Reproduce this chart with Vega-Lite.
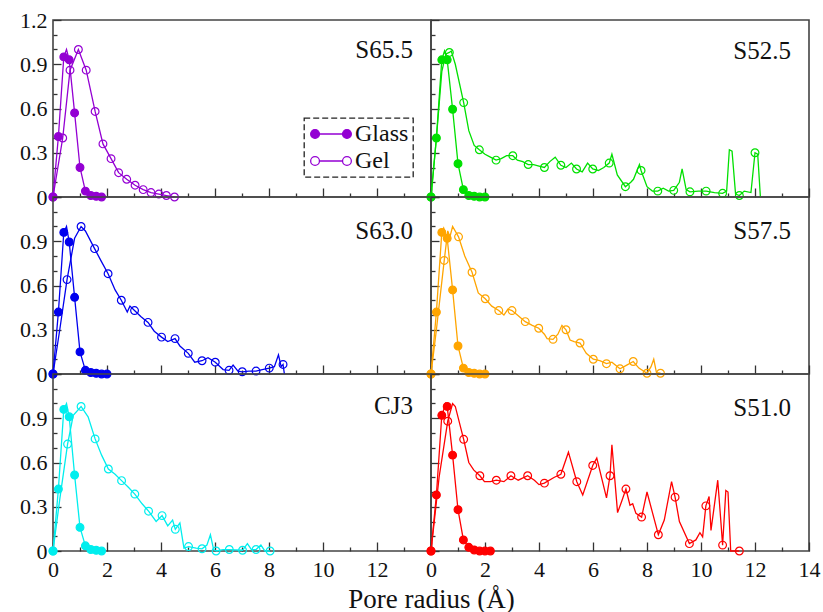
{
"$schema":"https://vega.github.io/schema/vega-lite/v6.json",
"padding":{"left":18,"top":8,"right":3,"bottom":3},
"config":{"font":"Liberation Serif","view":{"stroke":"#444","strokeWidth":1.6},"axis":{"domain":false,"grid":false,"labelFont":"Liberation Serif","labelFontSize":22,"labelColor":"#111","tickColor":"#333","tickWidth":1.3,"labelFlush":false,"labelOverlap":false},"legend":{"strokeDash":[6,3],"strokeWidth":1.3},"concat":{"spacing":0}},
"datasets":{"pore":[
{"sample":"S65.5","phase":"Glass","r":0,"g":0,"sym":1},{"sample":"S65.5","phase":"Glass","r":0.2,"g":0.41,"sym":1},{"sample":"S65.5","phase":"Glass","r":0.4,"g":0.95,"sym":1},{"sample":"S65.5","phase":"Glass","r":0.5,"g":1.0,"sym":0},{"sample":"S65.5","phase":"Glass","r":0.6,"g":0.93,"sym":1},{"sample":"S65.5","phase":"Glass","r":0.8,"g":0.57,"sym":1},{"sample":"S65.5","phase":"Glass","r":1.0,"g":0.2,"sym":1},{"sample":"S65.5","phase":"Glass","r":1.2,"g":0.04,"sym":1},{"sample":"S65.5","phase":"Glass","r":1.4,"g":0.01,"sym":1},{"sample":"S65.5","phase":"Glass","r":1.6,"g":0.005,"sym":1},{"sample":"S65.5","phase":"Glass","r":1.8,"g":0,"sym":1},
{"sample":"S65.5","phase":"Gel","r":0,"g":0,"sym":1},{"sample":"S65.5","phase":"Gel","r":0.36,"g":0.4,"sym":1},{"sample":"S65.5","phase":"Gel","r":0.63,"g":0.86,"sym":1},{"sample":"S65.5","phase":"Gel","r":0.94,"g":1.0,"sym":1},{"sample":"S65.5","phase":"Gel","r":1.23,"g":0.86,"sym":1},{"sample":"S65.5","phase":"Gel","r":1.56,"g":0.58,"sym":1},{"sample":"S65.5","phase":"Gel","r":1.85,"g":0.36,"sym":1},{"sample":"S65.5","phase":"Gel","r":2.15,"g":0.26,"sym":1},{"sample":"S65.5","phase":"Gel","r":2.43,"g":0.165,"sym":1},{"sample":"S65.5","phase":"Gel","r":2.73,"g":0.12,"sym":1},{"sample":"S65.5","phase":"Gel","r":3.04,"g":0.08,"sym":1},{"sample":"S65.5","phase":"Gel","r":3.34,"g":0.05,"sym":1},{"sample":"S65.5","phase":"Gel","r":3.63,"g":0.03,"sym":1},{"sample":"S65.5","phase":"Gel","r":3.92,"g":0.02,"sym":1},{"sample":"S65.5","phase":"Gel","r":4.2,"g":0.01,"sym":1},{"sample":"S65.5","phase":"Gel","r":4.5,"g":0,"sym":1},
{"sample":"S52.5","phase":"Glass","r":0,"g":0,"sym":1},{"sample":"S52.5","phase":"Glass","r":0.2,"g":0.4,"sym":1},{"sample":"S52.5","phase":"Glass","r":0.4,"g":0.93,"sym":1},{"sample":"S52.5","phase":"Glass","r":0.5,"g":0.99,"sym":0},{"sample":"S52.5","phase":"Glass","r":0.6,"g":0.93,"sym":1},{"sample":"S52.5","phase":"Glass","r":0.8,"g":0.595,"sym":1},{"sample":"S52.5","phase":"Glass","r":1.0,"g":0.226,"sym":1},{"sample":"S52.5","phase":"Glass","r":1.2,"g":0.05,"sym":1},{"sample":"S52.5","phase":"Glass","r":1.4,"g":0.01,"sym":1},{"sample":"S52.5","phase":"Glass","r":1.6,"g":0.005,"sym":1},{"sample":"S52.5","phase":"Glass","r":1.8,"g":0,"sym":1},{"sample":"S52.5","phase":"Glass","r":2.0,"g":0,"sym":1},
{"sample":"S52.5","phase":"Gel","r":0,"g":0,"sym":1},{"sample":"S52.5","phase":"Gel","r":0.2,"g":0.4,"sym":0},{"sample":"S52.5","phase":"Gel","r":0.4,"g":0.85,"sym":0},{"sample":"S52.5","phase":"Gel","r":0.55,"g":0.97,"sym":0},{"sample":"S52.5","phase":"Gel","r":0.68,"g":0.98,"sym":1},{"sample":"S52.5","phase":"Gel","r":0.75,"g":0.99,"sym":0},{"sample":"S52.5","phase":"Gel","r":0.9,"g":0.9,"sym":0},{"sample":"S52.5","phase":"Gel","r":1.21,"g":0.64,"sym":1},{"sample":"S52.5","phase":"Gel","r":1.4,"g":0.45,"sym":0},{"sample":"S52.5","phase":"Gel","r":1.6,"g":0.35,"sym":0},{"sample":"S52.5","phase":"Gel","r":1.79,"g":0.32,"sym":1},{"sample":"S52.5","phase":"Gel","r":2.0,"g":0.29,"sym":0},{"sample":"S52.5","phase":"Gel","r":2.2,"g":0.27,"sym":0},{"sample":"S52.5","phase":"Gel","r":2.41,"g":0.25,"sym":1},{"sample":"S52.5","phase":"Gel","r":2.6,"g":0.26,"sym":0},{"sample":"S52.5","phase":"Gel","r":2.8,"g":0.28,"sym":0},{"sample":"S52.5","phase":"Gel","r":3.03,"g":0.28,"sym":1},{"sample":"S52.5","phase":"Gel","r":3.2,"g":0.25,"sym":0},{"sample":"S52.5","phase":"Gel","r":3.4,"g":0.24,"sym":0},{"sample":"S52.5","phase":"Gel","r":3.6,"g":0.22,"sym":1},{"sample":"S52.5","phase":"Gel","r":3.8,"g":0.22,"sym":0},{"sample":"S52.5","phase":"Gel","r":4.0,"g":0.21,"sym":0},{"sample":"S52.5","phase":"Gel","r":4.2,"g":0.2,"sym":1},{"sample":"S52.5","phase":"Gel","r":4.4,"g":0.24,"sym":0},{"sample":"S52.5","phase":"Gel","r":4.6,"g":0.27,"sym":0},{"sample":"S52.5","phase":"Gel","r":4.81,"g":0.215,"sym":1},{"sample":"S52.5","phase":"Gel","r":5.0,"g":0.2,"sym":0},{"sample":"S52.5","phase":"Gel","r":5.2,"g":0.23,"sym":0},{"sample":"S52.5","phase":"Gel","r":5.39,"g":0.19,"sym":1},{"sample":"S52.5","phase":"Gel","r":5.6,"g":0.17,"sym":0},{"sample":"S52.5","phase":"Gel","r":5.8,"g":0.23,"sym":0},{"sample":"S52.5","phase":"Gel","r":5.99,"g":0.19,"sym":1},{"sample":"S52.5","phase":"Gel","r":6.2,"g":0.18,"sym":0},{"sample":"S52.5","phase":"Gel","r":6.4,"g":0.2,"sym":0},{"sample":"S52.5","phase":"Gel","r":6.6,"g":0.23,"sym":1},{"sample":"S52.5","phase":"Gel","r":6.7,"g":0.29,"sym":0},{"sample":"S52.5","phase":"Gel","r":6.9,"g":0.15,"sym":0},{"sample":"S52.5","phase":"Gel","r":7.2,"g":0.07,"sym":1},{"sample":"S52.5","phase":"Gel","r":7.4,"g":0.1,"sym":0},{"sample":"S52.5","phase":"Gel","r":7.5,"g":0.12,"sym":0},{"sample":"S52.5","phase":"Gel","r":7.72,"g":0.22,"sym":0},{"sample":"S52.5","phase":"Gel","r":7.78,"g":0.18,"sym":1},{"sample":"S52.5","phase":"Gel","r":8.0,"g":0.07,"sym":0},{"sample":"S52.5","phase":"Gel","r":8.2,"g":0.04,"sym":0},{"sample":"S52.5","phase":"Gel","r":8.4,"g":0.04,"sym":1},{"sample":"S52.5","phase":"Gel","r":8.6,"g":0.06,"sym":0},{"sample":"S52.5","phase":"Gel","r":8.8,"g":0.04,"sym":0},{"sample":"S52.5","phase":"Gel","r":8.99,"g":0.045,"sym":1},{"sample":"S52.5","phase":"Gel","r":9.2,"g":0.1,"sym":0},{"sample":"S52.5","phase":"Gel","r":9.3,"g":0.19,"sym":0},{"sample":"S52.5","phase":"Gel","r":9.45,"g":0.05,"sym":0},{"sample":"S52.5","phase":"Gel","r":9.59,"g":0.035,"sym":1},{"sample":"S52.5","phase":"Gel","r":9.9,"g":0.04,"sym":0},{"sample":"S52.5","phase":"Gel","r":10.19,"g":0.04,"sym":1},{"sample":"S52.5","phase":"Gel","r":10.5,"g":0.03,"sym":0},{"sample":"S52.5","phase":"Gel","r":10.8,"g":0.025,"sym":1},{"sample":"S52.5","phase":"Gel","r":10.95,"g":0.04,"sym":0},{"sample":"S52.5","phase":"Gel","r":11.05,"g":0.32,"sym":0},{"sample":"S52.5","phase":"Gel","r":11.15,"g":0.31,"sym":0},{"sample":"S52.5","phase":"Gel","r":11.28,"g":0.02,"sym":0},{"sample":"S52.5","phase":"Gel","r":11.42,"g":0.01,"sym":1},{"sample":"S52.5","phase":"Gel","r":11.6,"g":0.04,"sym":0},{"sample":"S52.5","phase":"Gel","r":11.85,"g":0.03,"sym":0},{"sample":"S52.5","phase":"Gel","r":12.0,"g":0.3,"sym":1},{"sample":"S52.5","phase":"Gel","r":12.1,"g":0.29,"sym":0},{"sample":"S52.5","phase":"Gel","r":12.2,"g":0,"sym":0},
{"sample":"S63.0","phase":"Glass","r":0,"g":0,"sym":1},{"sample":"S63.0","phase":"Glass","r":0.2,"g":0.42,"sym":1},{"sample":"S63.0","phase":"Glass","r":0.4,"g":0.96,"sym":1},{"sample":"S63.0","phase":"Glass","r":0.5,"g":1.0,"sym":0},{"sample":"S63.0","phase":"Glass","r":0.6,"g":0.895,"sym":1},{"sample":"S63.0","phase":"Glass","r":0.8,"g":0.52,"sym":1},{"sample":"S63.0","phase":"Glass","r":1.0,"g":0.15,"sym":1},{"sample":"S63.0","phase":"Glass","r":1.2,"g":0.025,"sym":1},{"sample":"S63.0","phase":"Glass","r":1.4,"g":0.01,"sym":1},{"sample":"S63.0","phase":"Glass","r":1.6,"g":0.005,"sym":1},{"sample":"S63.0","phase":"Glass","r":1.8,"g":0,"sym":1},{"sample":"S63.0","phase":"Glass","r":2.0,"g":0,"sym":1},
{"sample":"S63.0","phase":"Gel","r":0,"g":0,"sym":1},{"sample":"S63.0","phase":"Gel","r":0.25,"g":0.3,"sym":0},{"sample":"S63.0","phase":"Gel","r":0.52,"g":0.64,"sym":1},{"sample":"S63.0","phase":"Gel","r":0.8,"g":0.92,"sym":0},{"sample":"S63.0","phase":"Gel","r":1.04,"g":1.0,"sym":1},{"sample":"S63.0","phase":"Gel","r":1.2,"g":0.97,"sym":0},{"sample":"S63.0","phase":"Gel","r":1.54,"g":0.85,"sym":1},{"sample":"S63.0","phase":"Gel","r":1.8,"g":0.76,"sym":0},{"sample":"S63.0","phase":"Gel","r":2.04,"g":0.68,"sym":1},{"sample":"S63.0","phase":"Gel","r":2.3,"g":0.57,"sym":0},{"sample":"S63.0","phase":"Gel","r":2.53,"g":0.5,"sym":1},{"sample":"S63.0","phase":"Gel","r":2.75,"g":0.42,"sym":0},{"sample":"S63.0","phase":"Gel","r":2.85,"g":0.46,"sym":0},{"sample":"S63.0","phase":"Gel","r":3.02,"g":0.43,"sym":1},{"sample":"S63.0","phase":"Gel","r":3.25,"g":0.39,"sym":0},{"sample":"S63.0","phase":"Gel","r":3.52,"g":0.35,"sym":1},{"sample":"S63.0","phase":"Gel","r":3.75,"g":0.29,"sym":0},{"sample":"S63.0","phase":"Gel","r":4.02,"g":0.25,"sym":1},{"sample":"S63.0","phase":"Gel","r":4.25,"g":0.22,"sym":0},{"sample":"S63.0","phase":"Gel","r":4.52,"g":0.24,"sym":1},{"sample":"S63.0","phase":"Gel","r":4.7,"g":0.19,"sym":0},{"sample":"S63.0","phase":"Gel","r":5.01,"g":0.14,"sym":1},{"sample":"S63.0","phase":"Gel","r":5.25,"g":0.08,"sym":0},{"sample":"S63.0","phase":"Gel","r":5.52,"g":0.09,"sym":1},{"sample":"S63.0","phase":"Gel","r":5.74,"g":0.11,"sym":0},{"sample":"S63.0","phase":"Gel","r":6.01,"g":0.08,"sym":1},{"sample":"S63.0","phase":"Gel","r":6.3,"g":0.03,"sym":0},{"sample":"S63.0","phase":"Gel","r":6.52,"g":0.025,"sym":1},{"sample":"S63.0","phase":"Gel","r":6.67,"g":0.06,"sym":0},{"sample":"S63.0","phase":"Gel","r":6.85,"g":0.02,"sym":0},{"sample":"S63.0","phase":"Gel","r":7.01,"g":0.015,"sym":1},{"sample":"S63.0","phase":"Gel","r":7.25,"g":0.02,"sym":0},{"sample":"S63.0","phase":"Gel","r":7.52,"g":0.02,"sym":1},{"sample":"S63.0","phase":"Gel","r":7.75,"g":0.03,"sym":0},{"sample":"S63.0","phase":"Gel","r":8.01,"g":0.04,"sym":1},{"sample":"S63.0","phase":"Gel","r":8.2,"g":0.05,"sym":0},{"sample":"S63.0","phase":"Gel","r":8.35,"g":0.13,"sym":0},{"sample":"S63.0","phase":"Gel","r":8.45,"g":0.05,"sym":0},{"sample":"S63.0","phase":"Gel","r":8.52,"g":0.065,"sym":1},{"sample":"S63.0","phase":"Gel","r":8.57,"g":0,"sym":0},
{"sample":"S57.5","phase":"Glass","r":0,"g":0,"sym":1},{"sample":"S57.5","phase":"Glass","r":0.2,"g":0.42,"sym":1},{"sample":"S57.5","phase":"Glass","r":0.4,"g":0.96,"sym":1},{"sample":"S57.5","phase":"Glass","r":0.47,"g":0.99,"sym":0},{"sample":"S57.5","phase":"Glass","r":0.6,"g":0.92,"sym":1},{"sample":"S57.5","phase":"Glass","r":0.8,"g":0.57,"sym":1},{"sample":"S57.5","phase":"Glass","r":1.0,"g":0.19,"sym":1},{"sample":"S57.5","phase":"Glass","r":1.2,"g":0.04,"sym":1},{"sample":"S57.5","phase":"Glass","r":1.4,"g":0.01,"sym":1},{"sample":"S57.5","phase":"Glass","r":1.6,"g":0.005,"sym":1},{"sample":"S57.5","phase":"Glass","r":1.8,"g":0,"sym":1},{"sample":"S57.5","phase":"Glass","r":2.0,"g":0,"sym":1},
{"sample":"S57.5","phase":"Gel","r":0,"g":0,"sym":1},{"sample":"S57.5","phase":"Gel","r":0.2,"g":0.3,"sym":0},{"sample":"S57.5","phase":"Gel","r":0.49,"g":0.77,"sym":1},{"sample":"S57.5","phase":"Gel","r":0.62,"g":0.97,"sym":0},{"sample":"S57.5","phase":"Gel","r":0.7,"g":0.93,"sym":0},{"sample":"S57.5","phase":"Gel","r":0.8,"g":1.0,"sym":0},{"sample":"S57.5","phase":"Gel","r":1.02,"g":0.93,"sym":1},{"sample":"S57.5","phase":"Gel","r":1.25,"g":0.8,"sym":0},{"sample":"S57.5","phase":"Gel","r":1.52,"g":0.69,"sym":1},{"sample":"S57.5","phase":"Gel","r":1.75,"g":0.55,"sym":0},{"sample":"S57.5","phase":"Gel","r":2.01,"g":0.51,"sym":1},{"sample":"S57.5","phase":"Gel","r":2.25,"g":0.46,"sym":0},{"sample":"S57.5","phase":"Gel","r":2.51,"g":0.43,"sym":1},{"sample":"S57.5","phase":"Gel","r":2.7,"g":0.4,"sym":0},{"sample":"S57.5","phase":"Gel","r":2.85,"g":0.44,"sym":0},{"sample":"S57.5","phase":"Gel","r":3.0,"g":0.43,"sym":1},{"sample":"S57.5","phase":"Gel","r":3.2,"g":0.4,"sym":0},{"sample":"S57.5","phase":"Gel","r":3.49,"g":0.355,"sym":1},{"sample":"S57.5","phase":"Gel","r":3.75,"g":0.33,"sym":0},{"sample":"S57.5","phase":"Gel","r":3.99,"g":0.31,"sym":1},{"sample":"S57.5","phase":"Gel","r":4.2,"g":0.27,"sym":0},{"sample":"S57.5","phase":"Gel","r":4.3,"g":0.24,"sym":0},{"sample":"S57.5","phase":"Gel","r":4.52,"g":0.235,"sym":1},{"sample":"S57.5","phase":"Gel","r":4.7,"g":0.27,"sym":0},{"sample":"S57.5","phase":"Gel","r":4.85,"g":0.33,"sym":0},{"sample":"S57.5","phase":"Gel","r":5.0,"g":0.3,"sym":1},{"sample":"S57.5","phase":"Gel","r":5.15,"g":0.23,"sym":0},{"sample":"S57.5","phase":"Gel","r":5.3,"g":0.22,"sym":0},{"sample":"S57.5","phase":"Gel","r":5.52,"g":0.21,"sym":1},{"sample":"S57.5","phase":"Gel","r":5.75,"g":0.14,"sym":0},{"sample":"S57.5","phase":"Gel","r":6.01,"g":0.1,"sym":1},{"sample":"S57.5","phase":"Gel","r":6.25,"g":0.09,"sym":0},{"sample":"S57.5","phase":"Gel","r":6.5,"g":0.07,"sym":1},{"sample":"S57.5","phase":"Gel","r":6.7,"g":0.08,"sym":0},{"sample":"S57.5","phase":"Gel","r":7.0,"g":0.035,"sym":1},{"sample":"S57.5","phase":"Gel","r":7.25,"g":0.06,"sym":0},{"sample":"S57.5","phase":"Gel","r":7.49,"g":0.085,"sym":1},{"sample":"S57.5","phase":"Gel","r":7.7,"g":0.04,"sym":0},{"sample":"S57.5","phase":"Gel","r":8.0,"g":0.005,"sym":1},{"sample":"S57.5","phase":"Gel","r":8.15,"g":0.05,"sym":0},{"sample":"S57.5","phase":"Gel","r":8.25,"g":0.1,"sym":0},{"sample":"S57.5","phase":"Gel","r":8.35,"g":0.01,"sym":0},{"sample":"S57.5","phase":"Gel","r":8.5,"g":0.005,"sym":1},
{"sample":"CJ3","phase":"Glass","r":0,"g":0,"sym":1},{"sample":"CJ3","phase":"Glass","r":0.2,"g":0.42,"sym":1},{"sample":"CJ3","phase":"Glass","r":0.4,"g":0.96,"sym":1},{"sample":"CJ3","phase":"Glass","r":0.5,"g":1.0,"sym":0},{"sample":"CJ3","phase":"Glass","r":0.6,"g":0.91,"sym":1},{"sample":"CJ3","phase":"Glass","r":0.8,"g":0.515,"sym":1},{"sample":"CJ3","phase":"Glass","r":1.0,"g":0.16,"sym":1},{"sample":"CJ3","phase":"Glass","r":1.2,"g":0.035,"sym":1},{"sample":"CJ3","phase":"Glass","r":1.4,"g":0.01,"sym":1},{"sample":"CJ3","phase":"Glass","r":1.6,"g":0.005,"sym":1},{"sample":"CJ3","phase":"Glass","r":1.8,"g":0,"sym":1},
{"sample":"CJ3","phase":"Gel","r":0,"g":0,"sym":1},{"sample":"CJ3","phase":"Gel","r":0.25,"g":0.35,"sym":0},{"sample":"CJ3","phase":"Gel","r":0.54,"g":0.725,"sym":1},{"sample":"CJ3","phase":"Gel","r":0.75,"g":0.92,"sym":0},{"sample":"CJ3","phase":"Gel","r":1.04,"g":0.98,"sym":1},{"sample":"CJ3","phase":"Gel","r":1.3,"g":0.91,"sym":0},{"sample":"CJ3","phase":"Gel","r":1.56,"g":0.76,"sym":1},{"sample":"CJ3","phase":"Gel","r":1.8,"g":0.65,"sym":0},{"sample":"CJ3","phase":"Gel","r":2.05,"g":0.556,"sym":1},{"sample":"CJ3","phase":"Gel","r":2.3,"g":0.52,"sym":0},{"sample":"CJ3","phase":"Gel","r":2.54,"g":0.477,"sym":1},{"sample":"CJ3","phase":"Gel","r":2.8,"g":0.43,"sym":0},{"sample":"CJ3","phase":"Gel","r":3.03,"g":0.386,"sym":1},{"sample":"CJ3","phase":"Gel","r":3.3,"g":0.32,"sym":0},{"sample":"CJ3","phase":"Gel","r":3.54,"g":0.27,"sym":1},{"sample":"CJ3","phase":"Gel","r":3.82,"g":0.2,"sym":0},{"sample":"CJ3","phase":"Gel","r":4.04,"g":0.24,"sym":1},{"sample":"CJ3","phase":"Gel","r":4.25,"g":0.17,"sym":0},{"sample":"CJ3","phase":"Gel","r":4.43,"g":0.21,"sym":0},{"sample":"CJ3","phase":"Gel","r":4.53,"g":0.147,"sym":1},{"sample":"CJ3","phase":"Gel","r":4.7,"g":0.19,"sym":0},{"sample":"CJ3","phase":"Gel","r":4.85,"g":0.02,"sym":0},{"sample":"CJ3","phase":"Gel","r":5.02,"g":0.03,"sym":1},{"sample":"CJ3","phase":"Gel","r":5.3,"g":0.02,"sym":0},{"sample":"CJ3","phase":"Gel","r":5.52,"g":0.015,"sym":1},{"sample":"CJ3","phase":"Gel","r":5.7,"g":0.04,"sym":0},{"sample":"CJ3","phase":"Gel","r":5.83,"g":0.11,"sym":0},{"sample":"CJ3","phase":"Gel","r":5.95,"g":0.01,"sym":0},{"sample":"CJ3","phase":"Gel","r":6.04,"g":0,"sym":1},{"sample":"CJ3","phase":"Gel","r":6.3,"g":0.01,"sym":0},{"sample":"CJ3","phase":"Gel","r":6.53,"g":0.01,"sym":1},{"sample":"CJ3","phase":"Gel","r":7.02,"g":0.005,"sym":1},{"sample":"CJ3","phase":"Gel","r":7.2,"g":0.05,"sym":0},{"sample":"CJ3","phase":"Gel","r":7.35,"g":0.01,"sym":0},{"sample":"CJ3","phase":"Gel","r":7.52,"g":0.01,"sym":1},{"sample":"CJ3","phase":"Gel","r":7.7,"g":0.04,"sym":0},{"sample":"CJ3","phase":"Gel","r":7.85,"g":0,"sym":0},{"sample":"CJ3","phase":"Gel","r":8.04,"g":0,"sym":1},
{"sample":"S51.0","phase":"Glass","r":0,"g":0,"sym":1},{"sample":"S51.0","phase":"Glass","r":0.2,"g":0.38,"sym":1},{"sample":"S51.0","phase":"Glass","r":0.4,"g":0.92,"sym":1},{"sample":"S51.0","phase":"Glass","r":0.55,"g":1.0,"sym":0},{"sample":"S51.0","phase":"Glass","r":0.6,"g":0.98,"sym":1},{"sample":"S51.0","phase":"Glass","r":0.8,"g":0.65,"sym":1},{"sample":"S51.0","phase":"Glass","r":1.0,"g":0.28,"sym":1},{"sample":"S51.0","phase":"Glass","r":1.2,"g":0.075,"sym":1},{"sample":"S51.0","phase":"Glass","r":1.4,"g":0.025,"sym":1},{"sample":"S51.0","phase":"Glass","r":1.6,"g":0.007,"sym":1},{"sample":"S51.0","phase":"Glass","r":1.8,"g":0,"sym":1},{"sample":"S51.0","phase":"Glass","r":2.0,"g":0,"sym":1},{"sample":"S51.0","phase":"Glass","r":2.2,"g":0,"sym":1},
{"sample":"S51.0","phase":"Gel","r":0,"g":0,"sym":1},{"sample":"S51.0","phase":"Gel","r":0.3,"g":0.5,"sym":0},{"sample":"S51.0","phase":"Gel","r":0.62,"g":0.88,"sym":1},{"sample":"S51.0","phase":"Gel","r":0.8,"g":1.0,"sym":0},{"sample":"S51.0","phase":"Gel","r":0.9,"g":0.98,"sym":0},{"sample":"S51.0","phase":"Gel","r":1.21,"g":0.757,"sym":1},{"sample":"S51.0","phase":"Gel","r":1.4,"g":0.6,"sym":0},{"sample":"S51.0","phase":"Gel","r":1.58,"g":0.55,"sym":0},{"sample":"S51.0","phase":"Gel","r":1.81,"g":0.51,"sym":1},{"sample":"S51.0","phase":"Gel","r":1.98,"g":0.47,"sym":0},{"sample":"S51.0","phase":"Gel","r":2.2,"g":0.47,"sym":0},{"sample":"S51.0","phase":"Gel","r":2.42,"g":0.48,"sym":1},{"sample":"S51.0","phase":"Gel","r":2.7,"g":0.47,"sym":0},{"sample":"S51.0","phase":"Gel","r":2.96,"g":0.51,"sym":1},{"sample":"S51.0","phase":"Gel","r":3.23,"g":0.48,"sym":0},{"sample":"S51.0","phase":"Gel","r":3.58,"g":0.51,"sym":1},{"sample":"S51.0","phase":"Gel","r":3.83,"g":0.48,"sym":0},{"sample":"S51.0","phase":"Gel","r":4.0,"g":0.45,"sym":0},{"sample":"S51.0","phase":"Gel","r":4.2,"g":0.46,"sym":1},{"sample":"S51.0","phase":"Gel","r":4.57,"g":0.5,"sym":0},{"sample":"S51.0","phase":"Gel","r":4.81,"g":0.52,"sym":1},{"sample":"S51.0","phase":"Gel","r":5.09,"g":0.67,"sym":0},{"sample":"S51.0","phase":"Gel","r":5.4,"g":0.47,"sym":1},{"sample":"S51.0","phase":"Gel","r":5.62,"g":0.38,"sym":0},{"sample":"S51.0","phase":"Gel","r":5.99,"g":0.58,"sym":1},{"sample":"S51.0","phase":"Gel","r":6.14,"g":0.63,"sym":0},{"sample":"S51.0","phase":"Gel","r":6.5,"g":0.36,"sym":0},{"sample":"S51.0","phase":"Gel","r":6.63,"g":0.51,"sym":1},{"sample":"S51.0","phase":"Gel","r":6.7,"g":0.72,"sym":0},{"sample":"S51.0","phase":"Gel","r":6.91,"g":0.26,"sym":0},{"sample":"S51.0","phase":"Gel","r":7.06,"g":0.335,"sym":0},{"sample":"S51.0","phase":"Gel","r":7.22,"g":0.42,"sym":1},{"sample":"S51.0","phase":"Gel","r":7.37,"g":0.31,"sym":0},{"sample":"S51.0","phase":"Gel","r":7.47,"g":0.32,"sym":0},{"sample":"S51.0","phase":"Gel","r":7.59,"g":0.255,"sym":0},{"sample":"S51.0","phase":"Gel","r":7.8,"g":0.23,"sym":1},{"sample":"S51.0","phase":"Gel","r":8.0,"g":0.4,"sym":0},{"sample":"S51.0","phase":"Gel","r":8.21,"g":0.255,"sym":0},{"sample":"S51.0","phase":"Gel","r":8.42,"g":0.11,"sym":1},{"sample":"S51.0","phase":"Gel","r":8.64,"g":0.21,"sym":0},{"sample":"S51.0","phase":"Gel","r":8.91,"g":0.47,"sym":0},{"sample":"S51.0","phase":"Gel","r":9.04,"g":0.365,"sym":1},{"sample":"S51.0","phase":"Gel","r":9.2,"g":0.2,"sym":0},{"sample":"S51.0","phase":"Gel","r":9.57,"g":0.05,"sym":1},{"sample":"S51.0","phase":"Gel","r":9.81,"g":0.075,"sym":0},{"sample":"S51.0","phase":"Gel","r":9.96,"g":0.124,"sym":0},{"sample":"S51.0","phase":"Gel","r":10.06,"g":0.096,"sym":0},{"sample":"S51.0","phase":"Gel","r":10.18,"g":0.306,"sym":1},{"sample":"S51.0","phase":"Gel","r":10.3,"g":0.37,"sym":0},{"sample":"S51.0","phase":"Gel","r":10.37,"g":0.14,"sym":0},{"sample":"S51.0","phase":"Gel","r":10.62,"g":0.48,"sym":0},{"sample":"S51.0","phase":"Gel","r":10.74,"g":0.19,"sym":0},{"sample":"S51.0","phase":"Gel","r":10.8,"g":0.04,"sym":1},{"sample":"S51.0","phase":"Gel","r":10.92,"g":0.41,"sym":0},{"sample":"S51.0","phase":"Gel","r":11.0,"g":0.4,"sym":0},{"sample":"S51.0","phase":"Gel","r":11.1,"g":0,"sym":0},{"sample":"S51.0","phase":"Gel","r":11.42,"g":0,"sym":1}
]},
"columns":2,
"spacing":0,
"bounds":"flush",
"concat":[
{"width":378,"height":177,
 "title":{"text":"S65.5","orient":"top","anchor":"end","frame":"group","offset":-74,"dx":-18,"fontSize":25,"font":"Liberation Serif","fontWeight":"normal","baseline":"alphabetic","color":"#111"},
 "data":{"name":"pore"},"transform":[{"filter":"datum.sample==='S65.5'"}],
 "encoding":{
  "x":{"field":"r","type":"quantitative","title":null,"scale":{"domain":[0,14],"nice":false},"axis":{"values":[0,1,2,3,4,5,6,7,8,9,10,11,12,13,14],"labels":false,"tickSize":{"condition":{"test":"datum.value % 2 === 0","value":-9},"value":-4}}},
  "y":{"field":"g","type":"quantitative","title":null,"scale":{"domain":[0,1.2],"nice":false},"axis":{"values":[0,0.1,0.2,0.3,0.4,0.5,0.6,0.7,0.8,0.9,1.0,1.1,1.2],"labelPadding":14,"labelExpr":"round(datum.value*10)%3===0 ? (datum.value===0 ? '0' : format(datum.value,'.1f')) : ''","tickSize":{"condition":{"test":"round(datum.value*10)%3===0","value":-8},"value":-4}}}
 },
 "layer":[
  {"transform":[{"filter":"datum.phase==='Gel'"}],"mark":{"type":"line","color":"#9400d3","strokeWidth":1.3}},
  {"transform":[{"filter":"datum.phase==='Glass'"}],"mark":{"type":"line","color":"#9400d3","strokeWidth":1.3}},
  {"transform":[{"filter":"datum.sym===1"}],"mark":{"type":"point","shape":"circle","filled":true,"stroke":"#9400d3","strokeWidth":1.2,"size":60,"opacity":1},
   "encoding":{"fill":{"field":"phase","type":"nominal","scale":{"domain":["Glass","Gel"],"range":["#9400d3","transparent"]},
     "legend":{"title":null,"orient":"none","legendX":251,"legendY":98,"symbolType":"M-3.7,0A0.8,0.8,0,1,0,-2.1,0A0.8,0.8,0,1,0,-3.7,0M-2.1,0L2.1,0M2.1,0A0.8,0.8,0,1,0,3.7,0A0.8,0.8,0,1,0,2.1,0","symbolSize":121,"symbolStrokeColor":"#9400d3","symbolStrokeWidth":1.3,"symbolOffset":11,"labelOffset":12,"labelFontSize":24,"labelFont":"Liberation Serif","labelColor":"#111","padding":4,"rowPadding":3,"strokeColor":"#222"}}}}
 ]},
{"width":378,"height":177,
 "title":{"text":"S52.5","orient":"top","anchor":"end","frame":"group","offset":-65,"dx":-18,"fontSize":25,"font":"Liberation Serif","fontWeight":"normal","baseline":"alphabetic","color":"#111"},
 "data":{"name":"pore"},"transform":[{"filter":"datum.sample==='S52.5'"}],
 "encoding":{
  "x":{"field":"r","type":"quantitative","title":null,"scale":{"domain":[0,14],"nice":false},"axis":{"values":[0,1,2,3,4,5,6,7,8,9,10,11,12,13,14],"labels":false,"tickSize":{"condition":{"test":"datum.value % 2 === 0","value":-9},"value":-4}}},
  "y":{"field":"g","type":"quantitative","title":null,"scale":{"domain":[0,1.2],"nice":false},"axis":{"values":[0,0.1,0.2,0.3,0.4,0.5,0.6,0.7,0.8,0.9,1.0,1.1,1.2],"labels":false,"tickSize":{"condition":{"test":"round(datum.value*10)%3===0","value":-8},"value":-4}}}
 },
 "layer":[
  {"transform":[{"filter":"datum.phase==='Gel'"}],"mark":{"type":"line","color":"#00e000","strokeWidth":1.3}},
  {"transform":[{"filter":"datum.phase==='Glass'"}],"mark":{"type":"line","color":"#00e000","strokeWidth":1.3}},
  {"transform":[{"filter":"datum.phase==='Gel' && datum.sym===1"}],"mark":{"type":"point","shape":"circle","filled":false,"stroke":"#00e000","fill":"transparent","strokeWidth":1.2,"size":60,"opacity":1}},
  {"transform":[{"filter":"datum.phase==='Glass' && datum.sym===1"}],"mark":{"type":"point","shape":"circle","filled":true,"fill":"#00e000","stroke":"#00e000","strokeWidth":1.2,"size":60,"opacity":1}}
 ]},
{"width":378,"height":177,
 "title":{"text":"S63.0","orient":"top","anchor":"end","frame":"group","offset":-78,"dx":-18,"fontSize":25,"font":"Liberation Serif","fontWeight":"normal","baseline":"alphabetic","color":"#111"},
 "data":{"name":"pore"},"transform":[{"filter":"datum.sample==='S63.0'"}],
 "encoding":{
  "x":{"field":"r","type":"quantitative","title":null,"scale":{"domain":[0,14],"nice":false},"axis":{"values":[0,1,2,3,4,5,6,7,8,9,10,11,12,13,14],"labels":false,"tickSize":{"condition":{"test":"datum.value % 2 === 0","value":-9},"value":-4}}},
  "y":{"field":"g","type":"quantitative","title":null,"scale":{"domain":[0,1.2],"nice":false},"axis":{"values":[0,0.1,0.2,0.3,0.4,0.5,0.6,0.7,0.8,0.9,1.0,1.1,1.2],"labelPadding":14,"labelExpr":"round(datum.value*10)%3===0 && datum.value<1.15 ? (datum.value===0 ? '0' : format(datum.value,'.1f')) : ''","tickSize":{"condition":{"test":"round(datum.value*10)%3===0","value":-8},"value":-4}}}
 },
 "layer":[
  {"transform":[{"filter":"datum.phase==='Gel'"}],"mark":{"type":"line","color":"#0000ee","strokeWidth":1.3}},
  {"transform":[{"filter":"datum.phase==='Glass'"}],"mark":{"type":"line","color":"#0000ee","strokeWidth":1.3}},
  {"transform":[{"filter":"datum.phase==='Gel' && datum.sym===1"}],"mark":{"type":"point","shape":"circle","filled":false,"stroke":"#0000ee","fill":"transparent","strokeWidth":1.2,"size":60,"opacity":1}},
  {"transform":[{"filter":"datum.phase==='Glass' && datum.sym===1"}],"mark":{"type":"point","shape":"circle","filled":true,"fill":"#0000ee","stroke":"#0000ee","strokeWidth":1.2,"size":60,"opacity":1}}
 ]},
{"width":378,"height":177,
 "title":{"text":"S57.5","orient":"top","anchor":"end","frame":"group","offset":-68,"dx":-18,"fontSize":25,"font":"Liberation Serif","fontWeight":"normal","baseline":"alphabetic","color":"#111"},
 "data":{"name":"pore"},"transform":[{"filter":"datum.sample==='S57.5'"}],
 "encoding":{
  "x":{"field":"r","type":"quantitative","title":null,"scale":{"domain":[0,14],"nice":false},"axis":{"values":[0,1,2,3,4,5,6,7,8,9,10,11,12,13,14],"labels":false,"tickSize":{"condition":{"test":"datum.value % 2 === 0","value":-9},"value":-4}}},
  "y":{"field":"g","type":"quantitative","title":null,"scale":{"domain":[0,1.2],"nice":false},"axis":{"values":[0,0.1,0.2,0.3,0.4,0.5,0.6,0.7,0.8,0.9,1.0,1.1,1.2],"labels":false,"tickSize":{"condition":{"test":"round(datum.value*10)%3===0","value":-8},"value":-4}}}
 },
 "layer":[
  {"transform":[{"filter":"datum.phase==='Gel'"}],"mark":{"type":"line","color":"#ffa500","strokeWidth":1.3}},
  {"transform":[{"filter":"datum.phase==='Glass'"}],"mark":{"type":"line","color":"#ffa500","strokeWidth":1.3}},
  {"transform":[{"filter":"datum.phase==='Gel' && datum.sym===1"}],"mark":{"type":"point","shape":"circle","filled":false,"stroke":"#ffa500","fill":"transparent","strokeWidth":1.2,"size":60,"opacity":1}},
  {"transform":[{"filter":"datum.phase==='Glass' && datum.sym===1"}],"mark":{"type":"point","shape":"circle","filled":true,"fill":"#ffa500","stroke":"#ffa500","strokeWidth":1.2,"size":60,"opacity":1}}
 ]},
{"width":378,"height":177,
 "title":{"text":"CJ3","orient":"top","anchor":"end","frame":"group","offset":-76,"dx":-18,"fontSize":25,"font":"Liberation Serif","fontWeight":"normal","baseline":"alphabetic","color":"#111"},
 "data":{"name":"pore"},"transform":[{"filter":"datum.sample==='CJ3'"}],
 "encoding":{
  "x":{"field":"r","type":"quantitative","title":"Pore radius (Å)","scale":{"domain":[0,14],"nice":false},"axis":{"values":[0,1,2,3,4,5,6,7,8,9,10,11,12,13,14],"labelPadding":17,"labelExpr":"datum.value % 2 === 0 && datum.value < 14 ? format(datum.value,'d') : ''","tickSize":{"condition":{"test":"datum.value % 2 === 0","value":-9},"value":-4},"titleX":378,"titleY":56,"titleAlign":"center","titleBaseline":"alphabetic","titleFont":"Liberation Serif","titleFontSize":27,"titleFontWeight":"normal","titleColor":"#111"}},
  "y":{"field":"g","type":"quantitative","title":null,"scale":{"domain":[0,1.2],"nice":false},"axis":{"values":[0,0.1,0.2,0.3,0.4,0.5,0.6,0.7,0.8,0.9,1.0,1.1,1.2],"labelPadding":14,"labelExpr":"round(datum.value*10)%3===0 && datum.value<1.15 ? (datum.value===0 ? '0' : format(datum.value,'.1f')) : ''","tickSize":{"condition":{"test":"round(datum.value*10)%3===0","value":-8},"value":-4}}}
 },
 "layer":[
  {"transform":[{"filter":"datum.phase==='Gel'"}],"mark":{"type":"line","color":"#00eeee","strokeWidth":1.3}},
  {"transform":[{"filter":"datum.phase==='Glass'"}],"mark":{"type":"line","color":"#00eeee","strokeWidth":1.3}},
  {"transform":[{"filter":"datum.phase==='Gel' && datum.sym===1"}],"mark":{"type":"point","shape":"circle","filled":false,"stroke":"#00eeee","fill":"transparent","strokeWidth":1.2,"size":60,"opacity":1}},
  {"transform":[{"filter":"datum.phase==='Glass' && datum.sym===1"}],"mark":{"type":"point","shape":"circle","filled":true,"fill":"#00eeee","stroke":"#00eeee","strokeWidth":1.2,"size":60,"opacity":1}}
 ]},
{"width":378,"height":177,
 "title":{"text":"S51.0","orient":"top","anchor":"end","frame":"group","offset":-68,"dx":-18,"fontSize":25,"font":"Liberation Serif","fontWeight":"normal","baseline":"alphabetic","color":"#111"},
 "data":{"name":"pore"},"transform":[{"filter":"datum.sample==='S51.0'"}],
 "encoding":{
  "x":{"field":"r","type":"quantitative","title":null,"scale":{"domain":[0,14],"nice":false},"axis":{"values":[0,1,2,3,4,5,6,7,8,9,10,11,12,13,14],"labelPadding":17,"labelExpr":"datum.value % 2 === 0 ? format(datum.value,'d') : ''","tickSize":{"condition":{"test":"datum.value % 2 === 0","value":-9},"value":-4}}},
  "y":{"field":"g","type":"quantitative","title":null,"scale":{"domain":[0,1.2],"nice":false},"axis":{"values":[0,0.1,0.2,0.3,0.4,0.5,0.6,0.7,0.8,0.9,1.0,1.1,1.2],"labels":false,"tickSize":{"condition":{"test":"round(datum.value*10)%3===0","value":-8},"value":-4}}}
 },
 "layer":[
  {"transform":[{"filter":"datum.phase==='Gel'"}],"mark":{"type":"line","color":"#ff0000","strokeWidth":1.3}},
  {"transform":[{"filter":"datum.phase==='Glass'"}],"mark":{"type":"line","color":"#ff0000","strokeWidth":1.3}},
  {"transform":[{"filter":"datum.phase==='Gel' && datum.sym===1"}],"mark":{"type":"point","shape":"circle","filled":false,"stroke":"#ff0000","fill":"transparent","strokeWidth":1.2,"size":60,"opacity":1}},
  {"transform":[{"filter":"datum.phase==='Glass' && datum.sym===1"}],"mark":{"type":"point","shape":"circle","filled":true,"fill":"#ff0000","stroke":"#ff0000","strokeWidth":1.2,"size":60,"opacity":1}}
 ]}
]
}
